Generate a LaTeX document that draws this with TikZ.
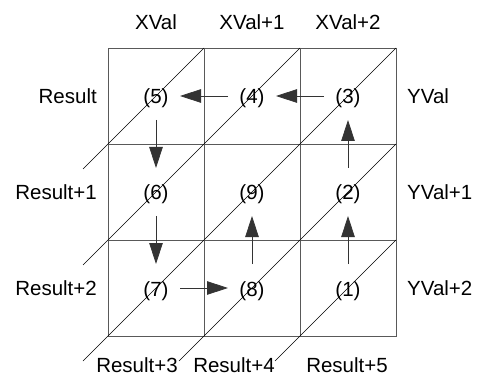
\documentclass[tikz,border=0pt]{standalone}
\usepackage{fontspec}
\setmainfont{Liberation Sans}
\usetikzlibrary{arrows.meta}
\begin{document}
\begin{tikzpicture}[x=1pt,y=-1pt,
  cell/.style={draw=black!65,line width=0.9pt,minimum size=96pt,inner sep=0pt,outer sep=0pt},
  num/.style={anchor=base,inner sep=0pt,font=\fontsize{20.5}{24}\selectfont},
  lab/.style={inner sep=0pt,font=\fontsize{20.5}{24}\selectfont},
  diag/.style={draw=black,line width=0.6pt},
  arr/.style={draw=black!80,line width=0.8pt,-{Triangle[length=21pt,width=13.5pt]},shorten <=24pt,shorten >=24pt}]
\useasboundingbox (0,0) rectangle (477,377);
% cells
\node[cell] (c5) at (156,96) {};
\node[cell] (c4) at (252,96) {};
\node[cell] (c3) at (348,96) {};
\node[cell] (c6) at (156,192) {};
\node[cell] (c9) at (252,192) {};
\node[cell] (c2) at (348,192) {};
\node[cell] (c7) at (156,288) {};
\node[cell] (c8) at (252,288) {};
\node[cell] (c1) at (348,288) {};
% diagonals
\coordinate (d1) at (83,169);
\coordinate (d2) at (83,265);
\coordinate (d3) at (83,361);
\coordinate (d4) at (179,361);
\coordinate (d5) at (275,361);
\draw[diag] (d1) -- (c5.north east);
\draw[diag] (d2) -- (c4.north east);
\draw[diag] (d3) -- (c3.north east);
\draw[diag] (d4) -- (c2.north east);
\draw[diag] (d5) -- (c1.north east);
% numbers
\node[num] (n5) at (156,104) {(5)};
\node[num] (n4) at (252,104) {(4)};
\node[num] (n3) at (348,104) {(3)};
\node[num] (n6) at (156,200) {(6)};
\node[num] (n9) at (252,200) {(9)};
\node[num] (n2) at (348,200) {(2)};
\node[num] (n7) at (156,296) {(7)};
\node[num] (n8) at (252,296) {(8)};
\node[num] (n1) at (348,296) {(1)};
% arrows
\draw[arr] (c1.center) -- (c2.center);
\draw[arr] (c2.center) -- (c3.center);
\draw[arr] (c3.center) -- (c4.center);
\draw[arr] (c4.center) -- (c5.center);
\draw[arr] (c5.center) -- (c6.center);
\draw[arr] (c6.center) -- (c7.center);
\draw[arr] (c7.center) -- (c8.center);
\draw[arr] (c8.center) -- (c9.center);
% labels
\node[lab] (x0) at (156,22) {XVal};
\node[lab] (x1) at (252,22) {XVal+1};
\node[lab] (x2) at (348,22) {XVal+2};
\node[lab,anchor=east] (r0) at (97,96) {Result};
\node[lab,anchor=east] (r1) at (97,192) {Result+1};
\node[lab,anchor=east] (r2) at (97,288) {Result+2};
\node[lab,anchor=west] (y0) at (407,96) {YVal};
\node[lab,anchor=west] (y1) at (407,192) {YVal+1};
\node[lab,anchor=west] (y2) at (407,288) {YVal+2};
\node[lab] (r3) at (137,365) {Result+3};
\node[lab] (r4) at (234,365) {Result+4};
\node[lab] (r5) at (347,365) {Result+5};
\end{tikzpicture}
\end{document}
